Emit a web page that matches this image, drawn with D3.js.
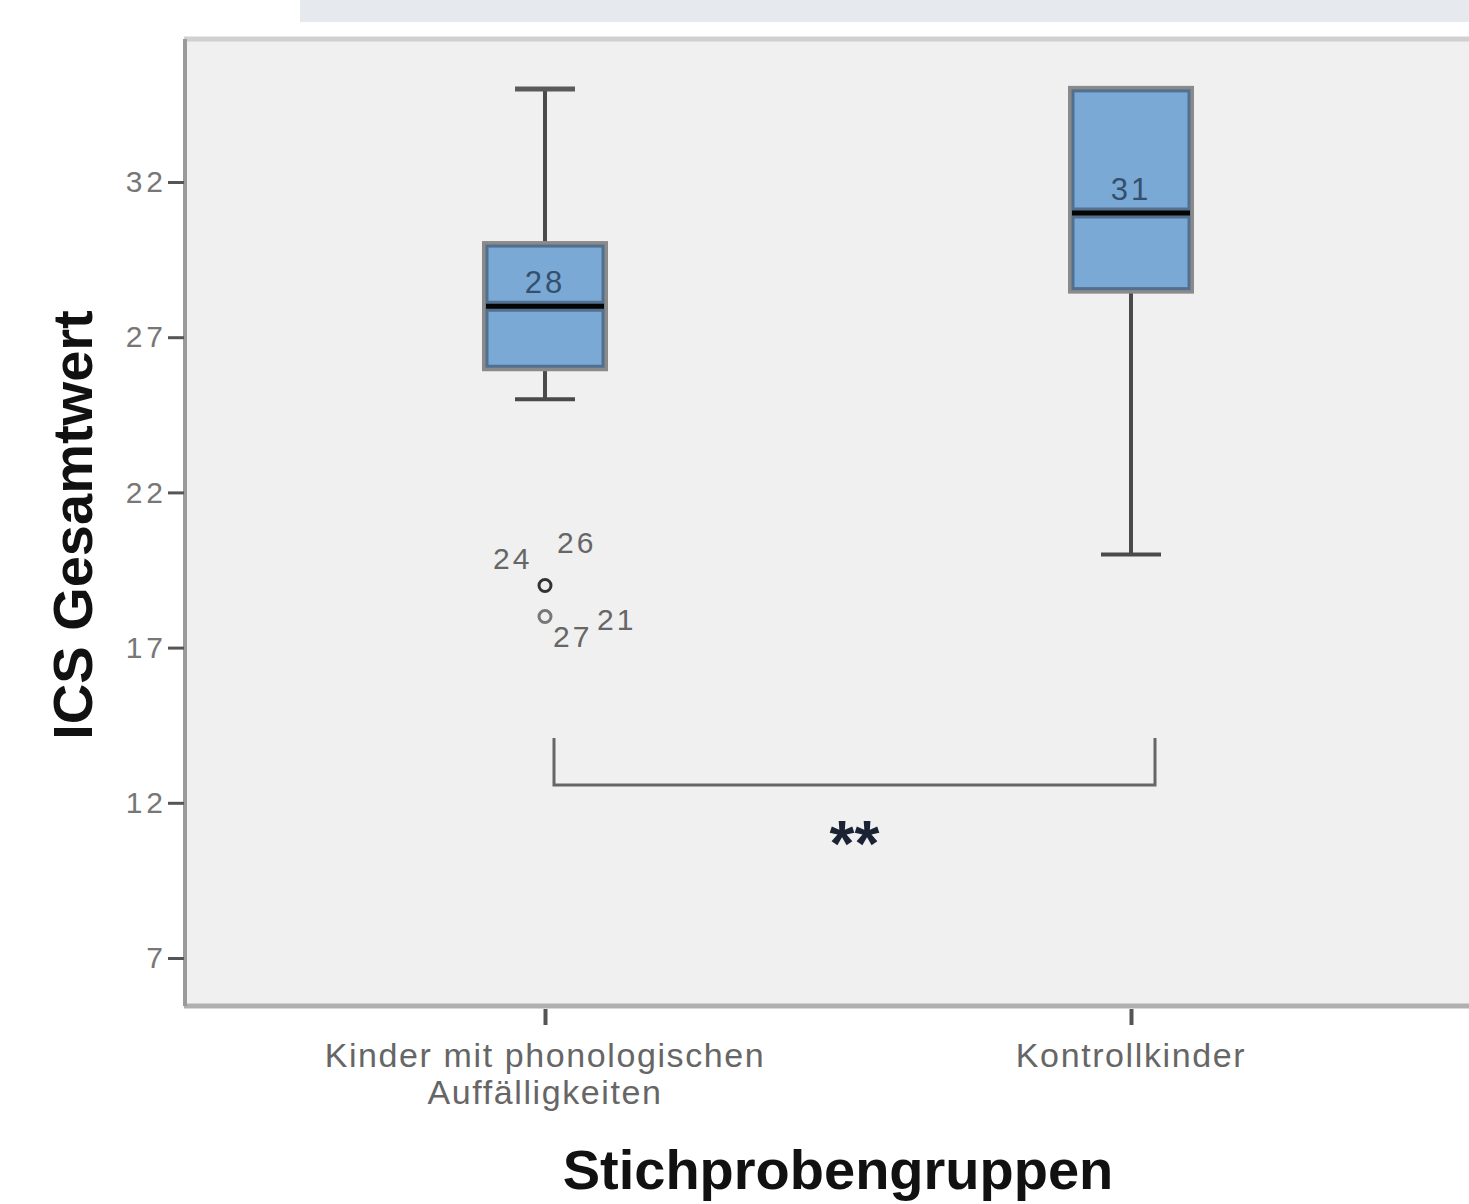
<!DOCTYPE html>
<html><head><meta charset="utf-8">
<script src="https://cdn.jsdelivr.net/npm/d3@7"></script>
<style>
body{margin:0;background:#fff;}
svg{display:block;font-family:Arial,"Liberation Sans",sans-serif;}
</style></head>
<body>
<svg id="c" width="1469" height="1204"></svg>
<script>
const categories = ["Kinder mit phonologischen Auffälligkeiten", "Kontrollkinder"];
const categoryLines = [["Kinder mit phonologischen", "Auffälligkeiten"], ["Kontrollkinder"]];
const whiskerLow = [25, 20];
const q1 = [26, 28.5];
const median = [28, 31];
const q3 = [30, 35];
const whiskerHigh = [35, 35];
const medianLabels = ["28", "31"];
const outlierCat = [0, 0];
const outlierValues = [19, 18];
const outlierLabels = [["24", "26"], ["27", "21"]];
const yTicks = [7, 12, 17, 22, 27, 32];
const sigLabel = "**";

(function () {
const svg = d3.select("#c");
const pLeft = 184, pTop = 39, pBottom = 1006, pRight = 1469;

// faint watermark strip at top
svg.append("rect").attr("x", 300).attr("y", 0).attr("width", 1169).attr("height", 22).attr("fill", "#e6eaee");

const y = d3.scaleLinear().domain([7, 32]).range([958, 182]);
const x = d3.scalePoint().domain(categories).range([545, 1131]);

// plot background
svg.append("rect").attr("x", pLeft).attr("y", pTop).attr("width", pRight - pLeft).attr("height", pBottom - pTop).attr("fill", "#f0f0f0");
svg.append("line").attr("x1", pLeft).attr("x2", pRight).attr("y1", pTop).attr("y2", pTop).attr("stroke", "#d0d0d0").attr("stroke-width", 5);
svg.append("line").attr("x1", pLeft).attr("x2", pRight).attr("y1", pBottom).attr("y2", pBottom).attr("stroke", "#b0b0b0").attr("stroke-width", 5);
svg.append("line").attr("x1", pLeft + 1).attr("x2", pLeft + 1).attr("y1", pTop).attr("y2", pBottom).attr("stroke", "#9a9a9a").attr("stroke-width", 4);

// y axis
const ya = svg.append("g").attr("transform", `translate(${pLeft},0)`)
  .call(d3.axisLeft(y).tickValues(yTicks).tickSize(16).tickPadding(1).tickFormat(d3.format("d")));
ya.select(".domain").remove();
ya.selectAll(".tick line").attr("stroke", "#555").attr("stroke-width", 3);
ya.selectAll(".tick text").attr("fill", "#777").attr("font-size", 30).attr("letter-spacing", 4)
  .attr("font-family", "Arial, 'Liberation Sans', sans-serif");

// x axis ticks
const xa = svg.append("g").attr("transform", `translate(0,${pBottom + 3})`)
  .call(d3.axisBottom(x).tickSize(16).tickFormat(""));
xa.select(".domain").remove();
xa.selectAll(".tick line").attr("stroke", "#555").attr("stroke-width", 4);

// category labels
categories.forEach((c, i) => {
  const t = svg.append("text").attr("x", x(c)).attr("y", 1067).attr("text-anchor", "middle")
    .attr("fill", "#666").attr("font-size", 34).attr("letter-spacing", 1.6);
  categoryLines[i].forEach((ln, j) => {
    t.append("tspan").attr("x", x(c)).attr("dy", j === 0 ? 0 : 37).text(ln);
  });
});

const boxW = 120, capW = 60;
categories.forEach((c, i) => {
  const cx = x(c);
  const g = svg.append("g");
  g.append("line").attr("x1", cx).attr("x2", cx).attr("y1", y(whiskerHigh[i])).attr("y2", y(q3[i])).attr("stroke", "#4a4a4a").attr("stroke-width", 4);
  g.append("line").attr("x1", cx).attr("x2", cx).attr("y1", y(q1[i])).attr("y2", y(whiskerLow[i])).attr("stroke", "#4a4a4a").attr("stroke-width", 4);
  g.append("line").attr("x1", cx - capW / 2).attr("x2", cx + capW / 2).attr("y1", y(whiskerHigh[i])).attr("y2", y(whiskerHigh[i])).attr("stroke", "#5a5a5a").attr("stroke-width", 5);
  g.append("line").attr("x1", cx - capW / 2).attr("x2", cx + capW / 2).attr("y1", y(whiskerLow[i])).attr("y2", y(whiskerLow[i])).attr("stroke", "#4a4a4a").attr("stroke-width", 4);
  g.append("rect").attr("x", cx - boxW / 2).attr("y", y(q3[i])).attr("width", boxW).attr("height", y(q1[i]) - y(q3[i]))
    .attr("fill", "#7aa9d6").attr("stroke", "#8a8a8a").attr("stroke-width", 6);
  g.append("rect").attr("x", cx - boxW / 2 + 2).attr("y", y(q3[i]) + 2).attr("width", boxW - 4).attr("height", y(q1[i]) - y(q3[i]) - 4)
    .attr("fill", "none").attr("stroke", "#51708f").attr("stroke-width", 3);
  g.append("line").attr("x1", cx - boxW / 2 + 1).attr("x2", cx + boxW / 2 - 1).attr("y1", y(median[i])).attr("y2", y(median[i])).attr("stroke", "#54708f").attr("stroke-width", 11);
  g.append("line").attr("x1", cx - boxW / 2 + 1).attr("x2", cx + boxW / 2 - 1).attr("y1", y(median[i])).attr("y2", y(median[i])).attr("stroke", "#050505").attr("stroke-width", 5);
  g.append("text").attr("x", cx).attr("y", y(median[i]) - 13).attr("text-anchor", "middle")
    .attr("fill", "#34506d").attr("font-size", 31).attr("letter-spacing", 3).text(medianLabels[i]);
});

// outliers
const lab = (xx, yy, s) => svg.append("text").attr("x", xx).attr("y", yy).attr("text-anchor", "start")
  .attr("fill", "#666").attr("font-size", 30).attr("letter-spacing", 3).text(s);
outlierValues.forEach((v, k) => {
  const cx = x(categories[outlierCat[k]]);
  const cy = y(v);
  svg.append("circle").attr("cx", cx).attr("cy", cy).attr("r", 6).attr("fill", "none").attr("stroke", k === 0 ? "#333" : "#777").attr("stroke-width", 3);
  const labs = outlierLabels[k];
  if (k === 0) {
    lab(cx - 52, cy - 17, labs[0]);
    lab(cx + 12, cy - 33, labs[1]);
  } else {
    lab(cx + 8, cy + 30, labs[0]);
    lab(cx + 52, cy + 13, labs[1]);
  }
});

// significance bracket
const bx1 = x(categories[0]) + 9, bx2 = x(categories[1]) + 24;
const byTop = y(14.09), byBot = y(12.57);
svg.append("path").attr("d", `M${bx1},${byTop}V${byBot}H${bx2}V${byTop}`).attr("fill", "none").attr("stroke", "#666").attr("stroke-width", 3);
svg.append("text").attr("x", (bx1 + bx2) / 2).attr("y", 866).attr("text-anchor", "middle").attr("fill", "#1a2233")
  .attr("font-size", 64).attr("font-weight", "bold").attr("letter-spacing", 0).text(sigLabel);

// axis titles
svg.append("text").attr("transform", "translate(92,525) rotate(-90)").attr("text-anchor", "middle")
  .attr("font-size", 56).attr("font-weight", "bold").attr("fill", "#111").text("ICS Gesamtwert");
svg.append("text").attr("x", 838).attr("y", 1189).attr("text-anchor", "middle")
  .attr("font-size", 56).attr("font-weight", "bold").attr("fill", "#111").text("Stichprobengruppen");
})();
</script>
</body></html>
